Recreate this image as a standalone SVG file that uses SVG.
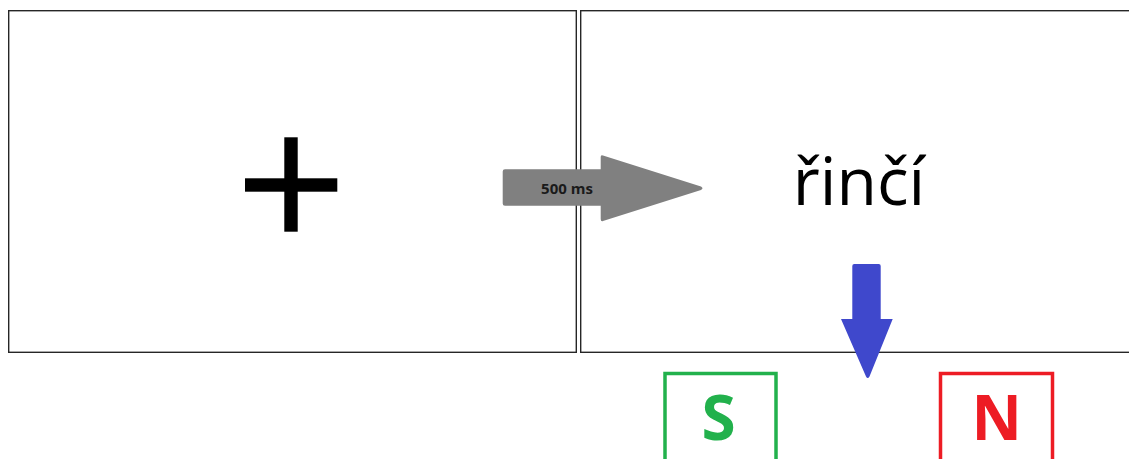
<svg xmlns="http://www.w3.org/2000/svg" width="1129" height="459" viewBox="0 0 1129 459">
  <style>
    .frame { fill: #ffffff; stroke: #262626; stroke-width: 1.4; }
    .word { font-family: "Open Sans", "Noto Sans", sans-serif; font-size: 66px; fill: #000000; }
    .label { font-family: "Open Sans", "Liberation Sans", sans-serif; font-weight: bold; font-size: 15px; fill: #1a1a1a; }
    .key { fill: none; stroke-width: 3.5; }
    .keytext { font-family: "Open Sans", "Liberation Sans", sans-serif; font-weight: bold; font-size: 62px; text-anchor: middle; }
  </style>
  <rect width="1129" height="459" fill="#ffffff"/>

  <!-- fixation screen -->
  <g id="fixation">
    <rect class="frame" x="8.7" y="10.7" width="567.6" height="341.6"/>
    <rect x="284.3" y="137.3" width="13.4" height="94.4" fill="#000000"/>
    <rect x="245" y="178.3" width="92.3" height="13.4" fill="#000000"/>
  </g>

  <!-- word screen -->
  <g id="word-screen">
    <rect class="frame" x="580.7" y="10.7" width="560" height="341.6"/>
    <text class="word" x="859" y="205" text-anchor="middle">řinčí</text>
  </g>

  <!-- response keys -->
  <g id="key-s">
    <rect class="key" x="665" y="373.5" width="111" height="100" stroke="#22b14c"/>
    <text class="keytext" x="718.5" y="439.5" fill="#22b14c">S</text>
  </g>
  <g id="key-n">
    <rect class="key" x="940.5" y="373.5" width="112" height="100" stroke="#ed1c24"/>
    <text class="keytext" x="996.7" y="439.5" fill="#ed1c24">N</text>
  </g>

  <g id="connectors">
    <!-- timing arrow between screens -->
    <g id="delay-arrow">
      <path d="M505 169.3 L600.7 169.3 L600.7 157 Q600.7 154.5 603 155.5 L701 186.5 Q704 188.3 701 190 L603 221 Q600.7 221.8 600.7 219 L600.7 205.7 L505 205.7 Q502.7 205.7 502.7 203.4 L502.7 171.6 Q502.7 169.3 505 169.3 Z" fill="#808080"/>
      <text class="label" x="567" y="193.5" text-anchor="middle">500 ms</text>
    </g>
    <!-- response arrow -->
    <path id="response-arrow" d="M854.3 264 L878.7 264 Q880.7 264 880.7 266 L880.7 319 L892.7 319 L869.5 376.5 Q867.7 379.5 866 376.5 L841 319 L852.3 319 L852.3 266 Q852.3 264 854.3 264 Z" fill="#3f48cc"/>
  </g>
</svg>
